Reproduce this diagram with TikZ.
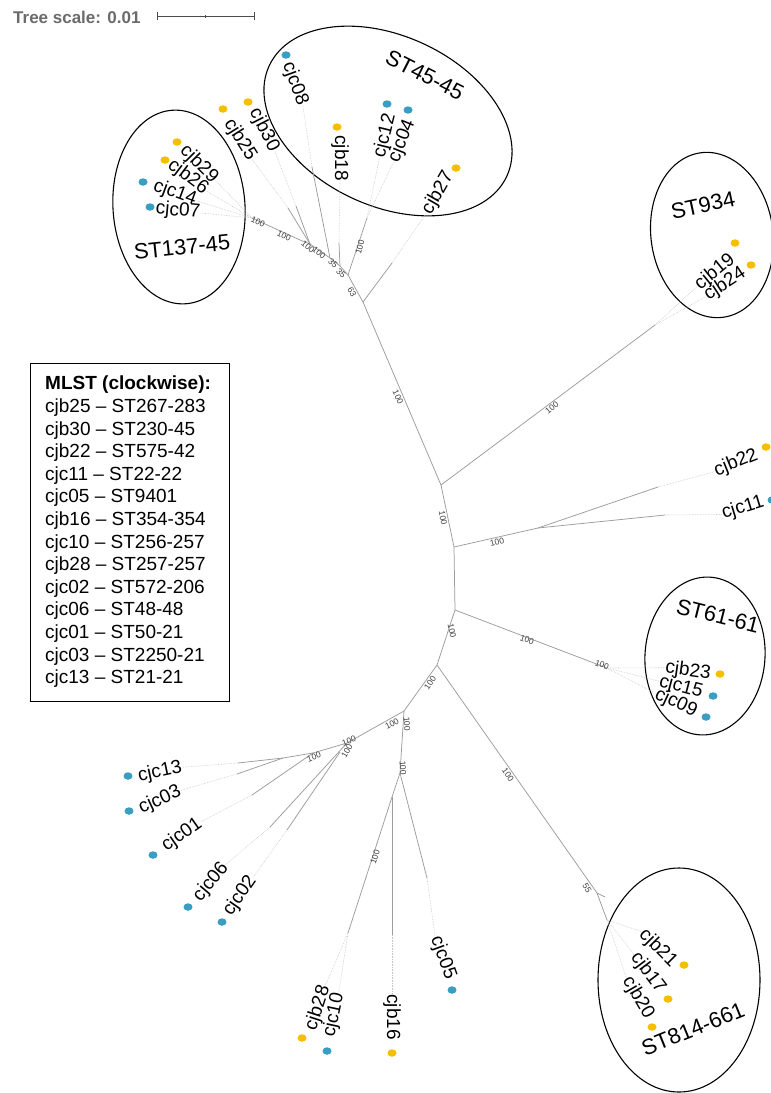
\documentclass[tikz,border=0pt]{standalone}
\usepackage{fontspec}
\setmainfont{Liberation Sans}
\usetikzlibrary{shapes.geometric}
\definecolor{ydotc}{HTML}{F5BF00}
\definecolor{bdotc}{HTML}{3A9DC2}
\definecolor{brc}{HTML}{9C9C9C}
\definecolor{scg}{HTML}{6B6B6B}
\tikzset{
 br/.style={draw=brc, line width=0.75pt},
 ext/.style={draw=black!22, densely dotted, line width=0.6pt},
 lf/.style={font=\fontsize{19}{19}\selectfont, inner sep=0.5pt},
 bs/.style={font=\fontsize{8.5}{8.5}\selectfont, inner sep=0pt, text=black!75},
 yd/.style={ellipse, fill=ydotc, minimum width=9pt, minimum height=7.5pt, inner sep=0pt},
 bd/.style={ellipse, fill=bdotc, minimum width=9pt, minimum height=7.5pt, inner sep=0pt},
 clus/.style={ellipse, draw=black, line width=1.1pt, inner sep=0pt},
 stl/.style={font=\fontsize{22}{22}\selectfont, inner sep=0pt},
 leg/.style={font=\fontsize{19}{19}\selectfont, anchor=west, inner sep=0pt},
}
\begin{document}
\begin{tikzpicture}[x=1pt,y=-1pt]
\fill[white] (0,0) rectangle (771,1093);
\useasboundingbox (0,0) rectangle (771,1093);

% ---------- tree scale ----------
\node[anchor=west, font=\bfseries\fontsize{17}{17}\selectfont, text=scg, inner sep=0pt] (ts) at (13,17) {Tree scale: 0.01};
\coordinate (sb1) at (157,16); \coordinate (sb2) at (254,16); \coordinate (sbm) at (205,16);
\draw[black!70, line width=0.8pt] (sb1) -- (sb2);
\draw[black!70, line width=0.8pt] ([yshift=-4pt]sb1) -- ([yshift=4pt]sb1);
\draw[black!70, line width=0.8pt] ([yshift=-4pt]sb2) -- ([yshift=4pt]sb2);
\draw[black!70, line width=0.8pt] ([yshift=-1.5pt]sbm) -- ([yshift=1.5pt]sbm);

% ---------- cluster ellipses ----------
\node[clus, minimum width=132pt, minimum height=194pt, rotate=4] (e137) at (179,207) {};
\node[clus, minimum width=262pt, minimum height=170pt, rotate=-25] (e45) at (388,121) {};
\node[clus, minimum width=122pt, minimum height=166pt, rotate=8] (e934) at (712,235) {};
\node[clus, minimum width=120pt, minimum height=158pt, rotate=-4] (e61) at (705,656) {};
\node[clus, minimum width=162pt, minimum height=224pt] (e814) at (679,980) {};

\node[stl, rotate=6] (st137) at (182,247) {ST137-45};
\node[stl, rotate=-27] (st45) at (425,75) {ST45-45};
\node[stl, rotate=12] (st934) at (703,205) {ST934};
\node[stl, rotate=-14] (st61) at (718,616) {ST61-61};
\node[stl, rotate=22] (st814) at (693,1029) {ST814-661};

% ---------- legend ----------
\node[draw=black, line width=1pt, minimum width=199pt, minimum height=338pt, anchor=north west, inner sep=0pt] (legbox) at (30,363) {};
\node[leg, font=\bfseries\fontsize{19}{19}\selectfont] (legt) at (45,385) {MLST (clockwise):};
\foreach \t [count=\i] in {cjb25 -- ST267-283, cjb30 -- ST230-45, cjb22 -- ST575-42, cjc11 -- ST22-22, cjc05 -- ST9401, cjb16 -- ST354-354, cjc10 -- ST256-257, cjb28 -- ST257-257, cjc02 -- ST572-206, cjc06 -- ST48-48, cjc01 -- ST50-21, cjc03 -- ST2250-21, cjc13 -- ST21-21}
  \node[leg] (leg\i) at (45,{385+22.6*\i}) {\t};

% ---------- junctions and tips ----------
\coordinate (ttop) at (363,302);
\coordinate (j1) at (441,485);
\coordinate (t934) at (655,325);
\coordinate (j2) at (454,547);
\coordinate (j2b) at (538,528);
\coordinate (tcjb22) at (658,487);
\coordinate (tcjc11) at (665,515);
\coordinate (j3) at (455,610);
\coordinate (t61) at (607,668);
\coordinate (j4) at (437,665);
\coordinate (j4b) at (597,893);
\coordinate (t814) at (607,920);
\coordinate (j5) at (404,711);
\coordinate (j6) at (400,773);
\coordinate (tcjc05) at (427,878);
\coordinate (j7) at (392,797);
\coordinate (tcjb16) at (392,935);
\coordinate (t2810) at (348,933);
\coordinate (j9) at (347,743);
\coordinate (j9b) at (340,752);
\coordinate (tcjc06) at (270,827);
\coordinate (tcjc02) at (287,830);
\coordinate (j10) at (313,753);
\coordinate (tcjc01) at (252,795);
\coordinate (j11) at (283,758);
\coordinate (tcjc13) at (238,763);
\coordinate (tcjc03) at (237,774);
\coordinate (tcjb27) at (392,263);
\coordinate (j12) at (348,275);
\coordinate (t1204) at (367,218);
\coordinate (j13) at (340,266);
\coordinate (tcjb18) at (339,243);
\coordinate (j14) at (330,258);
\coordinate (tcjc08) at (312,167);
\coordinate (j15) at (310,244);
\coordinate (tcjb30) at (296,206);
\coordinate (tcjb25) at (288,208);
\coordinate (j16) at (300,240);
\coordinate (t137) at (252,218);

% ---------- branches ----------
\draw[br] (ttop) -- (j1) -- (j2) -- (j3) -- (j4) -- (j5) -- (j9) -- (j10) -- (j11) -- (tcjc13);
\draw[br] (j1) -- (t934);
\draw[br] (j2) -- (j2b) -- (tcjb22);
\draw[br] (j2b) -- (tcjc11);
\draw[br] (j3) -- (t61);
\draw[br] (j4) -- (j4b) -- (t814);
\draw[br] (j4b) -- ++(8,4);
\draw[br] (j5) -- (j6) -- (tcjc05);
\draw[br] (j6) -- (j7) -- (t2810);
\draw[br] (j7) -- (tcjb16);
\draw[br] (j9) -- (tcjc06);
\draw[br] (j9b) -- (tcjc02);
\draw[br] (j10) -- (tcjc01);
\draw[br] (j11) -- (tcjc03);
\draw[br] (ttop) -- (tcjb27);
\draw[br] (ttop) -- (j12) -- (j13) -- (j14) -- (j15) -- (j16) -- (t137);
\draw[br] (j12) -- (t1204);
\draw[br] (j13) -- (tcjb18);
\draw[br] (j14) -- (tcjc08);
\draw[br] (j15) -- (tcjb30);
\draw[br] (j15) -- (tcjb25);

% ---------- bootstrap values ----------
\node[bs, rotate=-60] (b1) at (352,292) {63};
\node[bs, rotate=-40] (b2) at (341,273) {35};
\node[bs, rotate=-40] (b3) at (333,263) {35};
\node[bs, rotate=-40] (b4) at (319,253) {100};
\node[bs, rotate=-40] (b5) at (308,247) {100};
\node[bs, rotate=-25] (b6) at (284,236) {100};
\node[bs, rotate=-25] (b7) at (258,222) {100};
\node[bs, rotate=75] (b8) at (360,247) {100};
\node[bs, rotate=-65] (b9) at (398,397) {100};
\node[bs, rotate=38] (b10) at (552,408) {100};
\node[bs, rotate=-80] (b11) at (443,518) {100};
\node[bs, rotate=14] (b12) at (497,542) {100};
\node[bs, rotate=-78] (b13) at (452,631) {100};
\node[bs, rotate=-20] (b14) at (527,640) {100};
\node[bs, rotate=-20] (b15) at (602,665) {100};
\node[bs, rotate=55] (b16) at (430,683) {100};
\node[bs, rotate=-55] (b17) at (508,775) {100};
\node[bs, rotate=-60] (b18) at (587,888) {55};
\node[bs, rotate=28] (b19) at (392,724) {100};
\node[bs, rotate=-86] (b20) at (407,724) {100};
\node[bs, rotate=-86] (b21) at (403,768) {100};
\node[bs, rotate=20] (b22) at (349,741) {100};
\node[bs, rotate=60] (b23) at (347,751) {100};
\node[bs, rotate=20] (b24) at (314,757) {100};
\node[bs, rotate=72] (b25) at (375,857) {100};

% ---------- leaf labels ----------
\node[lf, rotate=-45] (lcjb29) at (199,164) {cjb29};
\node[lf, rotate=-37] (lcjb26) at (188,177) {cjb26};
\node[lf, rotate=-20] (lcjc14) at (175,193) {cjc14};
\node[lf, rotate=-5] (lcjc07) at (178,211) {cjc07};
\node[lf, rotate=-63] (lcjb30) at (264,130) {cjb30};
\node[lf, rotate=-58] (lcjb25) at (240,140) {cjb25};
\node[lf, rotate=-70] (lcjc08) at (295,84) {cjc08};
\node[lf, rotate=-90] (lcjb18) at (340,158) {cjb18};
\node[lf, rotate=76] (lcjc12) at (385,136) {cjc12};
\node[lf, rotate=68] (lcjc04) at (402,141) {cjc04};
\node[lf, rotate=60] (lcjb27) at (438,193) {cjb27};
\node[lf, rotate=39] (lcjb19) at (715,272) {cjb19};
\node[lf, rotate=33] (lcjb24) at (725,284) {cjb24};
\node[lf, rotate=22] (lcjb22) at (736,463) {cjb22};
\node[lf, rotate=17] (lcjc11) at (743,508) {cjc11};
\node[lf, rotate=-8] (lcjb23) at (688,671) {cjb23};
\node[lf, rotate=-15] (lcjc15) at (681,687) {cjc15};
\node[lf, rotate=-25] (lcjc09) at (676,703) {cjc09};
\node[lf, rotate=-45] (lcjb21) at (658,948) {cjb21};
\node[lf, rotate=-53] (lcjb17) at (648,973) {cjb17};
\node[lf, rotate=-60] (lcjb20) at (638,998) {cjb20};
\node[lf, rotate=-70] (lcjc05) at (443,958) {cjc05};
\node[lf, rotate=-90] (lcjb16) at (392,1017) {cjb16};
\node[lf, rotate=72] (lcjb28) at (318,1008) {cjb28};
\node[lf, rotate=78] (lcjc10) at (334,1015) {cjc10};
\node[lf, rotate=12] (lcjc13) at (160,772) {cjc13};
\node[lf, rotate=25] (lcjc03) at (160,800) {cjc03};
\node[lf, rotate=35] (lcjc01) at (182,835) {cjc01};
\node[lf, rotate=50] (lcjc06) at (211,882) {cjc06};
\node[lf, rotate=55] (lcjc02) at (240,896) {cjc02};

% ---------- dotted leaf extensions ----------
\draw[ext] (t137) -- (lcjb29.east);
\draw[ext] (t137) -- (lcjb26.east);
\draw[ext] (t137) -- (lcjc14.east);
\draw[ext] (t137) -- (lcjc07.east);
\draw[ext] (tcjb30) -- (lcjb30.east);
\draw[ext] (tcjb25) -- (lcjb25.east);
\draw[ext] (tcjc08) -- (lcjc08.east);
\draw[ext] (tcjb18) -- (lcjb18.east);
\draw[ext] (t1204) -- (lcjc12.west);
\draw[ext] (t1204) -- (lcjc04.west);
\draw[ext] (tcjb27) -- (lcjb27.west);
\draw[ext] (t934) -- (lcjb19.west);
\draw[ext] (t934) -- (lcjb24.west);
\draw[ext] (tcjb22) -- (lcjb22.west);
\draw[ext] (tcjc11) -- (lcjc11.west);
\draw[ext] (t61) -- (lcjb23.west);
\draw[ext] (t61) -- (lcjc15.west);
\draw[ext] (t61) -- (lcjc09.west);
\draw[ext] (t814) -- (lcjb21.west);
\draw[ext] (t814) -- (lcjb17.west);
\draw[ext] (t814) -- (lcjb20.west);
\draw[ext] (tcjc05) -- (lcjc05.west);
\draw[ext] (tcjb16) -- (lcjb16.west);
\draw[ext] (t2810) -- (lcjb28.east);
\draw[ext] (t2810) -- (lcjc10.east);
\draw[ext] (tcjc13) -- (lcjc13.east);
\draw[ext] (tcjc03) -- (lcjc03.east);
\draw[ext] (tcjc01) -- (lcjc01.east);
\draw[ext] (tcjc06) -- (lcjc06.east);
\draw[ext] (tcjc02) -- (lcjc02.east);

% ---------- dots ----------
\node[yd] (dcjb29) at (177,142) {};
\node[yd] (dcjb26) at (165,160) {};
\node[bd] (dcjc14) at (143,182) {};
\node[bd] (dcjc07) at (150,207) {};
\node[yd] (dcjb30) at (248,102) {};
\node[yd] (dcjb25) at (223,109) {};
\node[bd] (dcjc08) at (286,55) {};
\node[yd] (dcjb18) at (337,127) {};
\node[bd] (dcjc12) at (387,104) {};
\node[bd] (dcjc04) at (408,110) {};
\node[yd] (dcjb27) at (456,168) {};
\node[yd] (dcjb19) at (735,243) {};
\node[yd] (dcjb24) at (751,265) {};
\node[yd] (dcjb22) at (766,447) {};
\node[bd] (dcjc11) at (772,500) {};
\node[yd] (dcjb23) at (720,674) {};
\node[bd] (dcjc15) at (713,696) {};
\node[bd] (dcjc09) at (706,717) {};
\node[yd] (dcjb21) at (684,965) {};
\node[yd] (dcjb17) at (668,999) {};
\node[yd] (dcjb20) at (652,1027) {};
\node[bd] (dcjc05) at (452,990) {};
\node[yd] (dcjb16) at (392,1053) {};
\node[yd] (dcjb28) at (302,1038) {};
\node[bd] (dcjc10) at (327,1051) {};
\node[bd] (dcjc13) at (128,776) {};
\node[bd] (dcjc03) at (129,811) {};
\node[bd] (dcjc01) at (153,855) {};
\node[bd] (dcjc06) at (188,907) {};
\node[bd] (dcjc02) at (222,922) {};
\end{tikzpicture}
\end{document}
